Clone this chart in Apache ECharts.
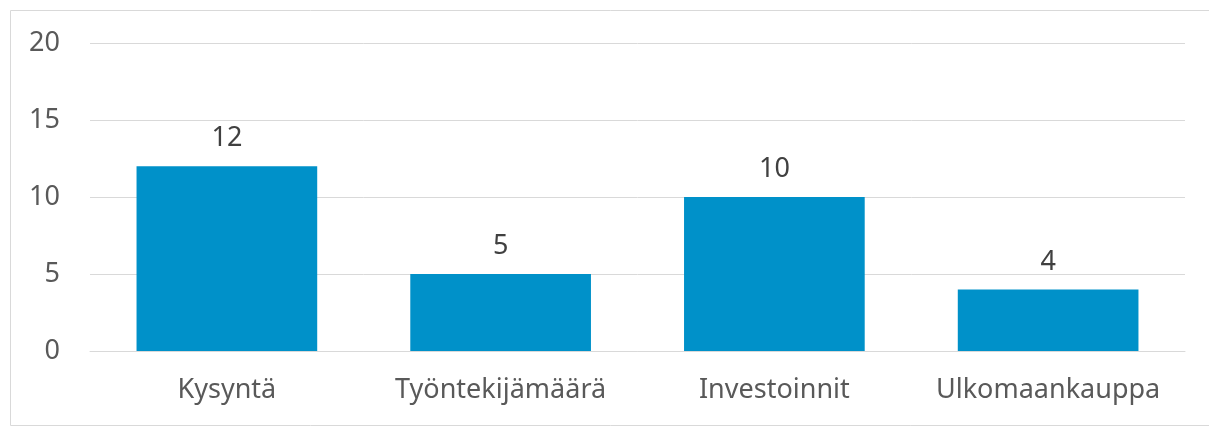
<!DOCTYPE html>
<html>
<head>
<meta charset="utf-8">
<script src="https://cdn.jsdelivr.net/npm/echarts@6/dist/echarts.min.js"></script>
<style>
  html, body { margin: 0; padding: 0; background: #fff; }
  #chart { width: 1209px; height: 428px; }
</style>
</head>
<body>
<div id="chart"></div>
<script>
// 数据
const categories = ['Kysyntä', 'Työntekijämäärä', 'Investoinnit', 'Ulkomaankauppa']
const values = [12, 5, 10, 4]
const yTicks = [0, 5, 10, 15, 20]

const font = '"Noto Sans", "Open Sans", sans-serif'

echarts.init(document.getElementById('chart')).setOption({
  animation: false,
  // 外框
  graphic: [{
    type: 'rect',
    shape: { x: 10.5, y: 10.5, width: 1230, height: 415 },
    style: { fill: 'none', stroke: '#d9d9d9', lineWidth: 1 },
    silent: true
  }],
  grid: { left: 90, right: 24, top: 43, bottom: 77 },
  xAxis: {
    type: 'category',
    data: categories,
    axisTick: { show: false },
    axisLine: { lineStyle: { color: '#d9d9d9', width: 1 } },
    axisLabel: {
      color: '#595959',
      fontSize: 27,
      fontFamily: font,
      margin: 26,
      interval: 0,
      hideOverlap: false
    }
  },
  yAxis: {
    type: 'value',
    min: yTicks[0],
    max: yTicks[yTicks.length - 1],
    interval: 5,
    axisLabel: { color: '#595959', fontSize: 27, fontFamily: font, margin: 30 },
    splitLine: { lineStyle: { color: '#d9d9d9', width: 1 } },
    axisLine: { show: false },
    axisTick: { show: false }
  },
  series: [{
    type: 'bar',
    data: values,
    barWidth: '66%',
    itemStyle: { color: '#0091c9' },
    label: {
      show: true,
      position: 'top',
      distance: 14,
      color: '#404040',
      fontSize: 27,
      fontFamily: font
    }
  }]
})
</script>
</body>
</html>
